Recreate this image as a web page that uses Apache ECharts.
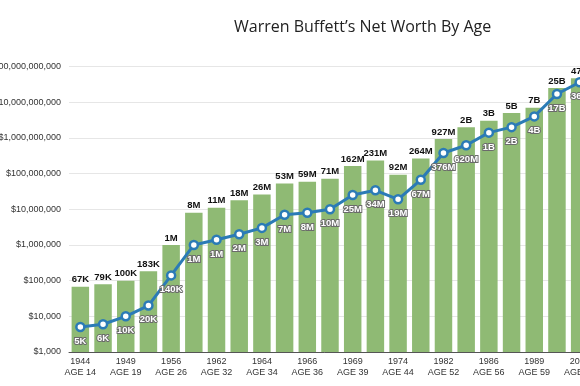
<!DOCTYPE html>
<html>
<head>
<meta charset="utf-8">
<script src="https://cdn.jsdelivr.net/npm/echarts@6/dist/echarts.min.js"></script>
<style>html,body{margin:0;padding:0;background:#fff}#c{width:580px;height:386px}</style>
</head>
<body>
<div id="c"></div>
<script>
var categories = ['1944\nAGE 14','','1949\nAGE 19','','1956\nAGE 26','','1962\nAGE 32','','1964\nAGE 34','','1966\nAGE 36','','1969\nAGE 39','','1974\nAGE 44','','1982\nAGE 52','','1986\nAGE 56','','1989\nAGE 59','','2008\nAGE 78'];
var netWorth = [67e3, 79e3, 100e3, 183e3, 1e6, 8e6, 11e6, 18e6, 26e6, 53e6, 59e6, 71e6, 162e6, 231e6, 92e6, 264e6, 927e6, 2e9, 3e9, 5e9, 7e9, 25e9, 47e9];
var netWorthLabels = ['67K','79K','100K','183K','1M','8M','11M','18M','26M','53M','59M','71M','162M','231M','92M','264M','927M','2B','3B','5B','7B','25B','47B'];
var lineValues = [5e3, 6e3, 10e3, 20e3, 140e3, 1e6, 1.4e6, 2e6, 3e6, 7e6, 8e6, 10e6, 25e6, 34e6, 19e6, 67e6, 376e6, 620e6, 1.4e9, 2e9, 4e9, 17e9, 36e9];
var lineLabels = ['5K','6K','10K','20K','140K','1M','1M','2M','3M','7M','8M','10M','25M','34M','19M','67M','376M','620M','1B','2B','4B','17B','36B'];

var chart = echarts.init(document.getElementById('c'), null, {renderer: 'canvas'});
chart.setOption({
  animation: false,
  backgroundColor: '#fff',
  title: {
    text: 'Warren Buffett\u2019s Net Worth By Age',
    left: 229, top: 14,
    textStyle: {fontFamily: 'Open Sans', fontSize: 16, fontWeight: 'normal', color: '#222'}
  },
  grid: {left: 69, right: -11, top: 66.5, bottom: 34, containLabel: false, outerBoundsMode: 'none'},
  xAxis: {
    type: 'category',
    data: categories,
    axisTick: {show: false},
    axisLine: {lineStyle: {color: '#555', width: 1}},
    axisLabel: {interval: 0, color: '#333', fontSize: 9, lineHeight: 11, margin: 4, fontFamily: 'Liberation Sans', hideOverlap: false}
  },
  yAxis: {
    type: 'log',
    logBase: 10,
    min: 1000,
    max: 1e11,
    axisLine: {show: false},
    axisTick: {show: false},
    splitLine: {lineStyle: {color: '#e6e6e6'}},
    axisLabel: {
      color: '#333', fontSize: 9, margin: 8, fontFamily: 'Liberation Sans',
      formatter: function (v) { return '$' + Math.round(v).toLocaleString('en-US'); }
    }
  },
  series: [{
    type: 'bar',
    data: netWorth,
    barCategoryGap: '23%',
    itemStyle: {color: '#8fba74'},
    label: {
      show: true, position: 'top', distance: 2,
      fontFamily: 'Liberation Sans', fontWeight: 'bold', fontSize: 9.5, color: '#111',
      formatter: function (p) { return netWorthLabels[p.dataIndex]; }
    }
  }, {
    type: 'line',
    data: lineValues,
    symbol: 'circle',
    symbolSize: 8,
    lineStyle: {color: '#2b7bb6', width: 3},
    itemStyle: {color: '#fff', borderColor: '#2b7bb6', borderWidth: 2.5},
    z: 3,
    label: {
      show: true, position: 'bottom', distance: 4,
      fontFamily: 'Liberation Sans', fontWeight: 'bold', fontSize: 9.5, color: '#fff',
      textBorderColor: '#6b6b6b', textBorderWidth: 2,
      formatter: function (p) { return lineLabels[p.dataIndex]; }
    }
  }]
});
</script>
</body>
</html>
